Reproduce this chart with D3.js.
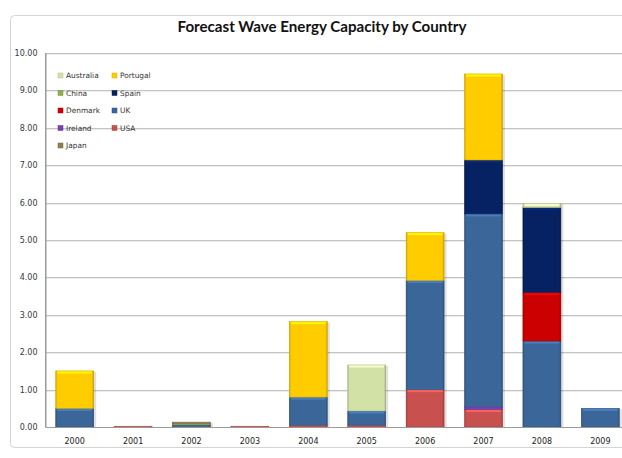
<!DOCTYPE html>
<html>
<head>
<meta charset="utf-8">
<script src="https://cdn.jsdelivr.net/npm/d3@7/dist/d3.min.js"></script>
<style>
  html, body { margin: 0; padding: 0; background: #fff; }
  svg { display: block; }
</style>
</head>
<body>
<svg id="chart" width="622" height="458"></svg>
<script>
// Forecast wave energy capacity (stacked by country)
const years = ["2000", "2001", "2002", "2003", "2004", "2005", "2006", "2007", "2008", "2009"];

// Series listed in stacking order, bottom to top
const USA       = [0.00, 0.02, 0.01, 0.02, 0.05, 0.05, 1.00, 0.47, 0.00, 0.00];
const Ireland   = [0.00, 0.00, 0.00, 0.00, 0.00, 0.00, 0.00, 0.07, 0.00, 0.00];
const UK        = [0.50, 0.00, 0.05, 0.00, 0.75, 0.38, 2.92, 5.16, 2.30, 0.50];
const Denmark   = [0.00, 0.00, 0.00, 0.00, 0.00, 0.00, 0.00, 0.00, 1.30, 0.00];
const Spain     = [0.00, 0.00, 0.00, 0.00, 0.00, 0.00, 0.00, 1.44, 2.27, 0.00];
const Portugal  = [1.00, 0.00, 0.00, 0.00, 2.02, 0.00, 1.28, 2.30, 0.00, 0.00];
const Australia = [0.00, 0.00, 0.00, 0.00, 0.00, 1.23, 0.00, 0.00, 0.11, 0.00];
const China     = [0.00, 0.00, 0.03, 0.00, 0.00, 0.00, 0.00, 0.00, 0.00, 0.00];
const Japan     = [0.00, 0.00, 0.04, 0.00, 0.00, 0.00, 0.00, 0.00, 0.00, 0.00];

const yTicks = [0, 1, 2, 3, 4, 5, 6, 7, 8, 9, 10];

const seriesDefs = [
  { name: "USA",       values: USA,       color: "#C8504E" },
  { name: "Ireland",   values: Ireland,   color: "#7A3FB0" },
  { name: "UK",        values: UK,        color: "#3B6699" },
  { name: "Denmark",   values: Denmark,   color: "#CC0000" },
  { name: "Spain",     values: Spain,     color: "#062262" },
  { name: "Portugal",  values: Portugal,  color: "#FFCC00" },
  { name: "Australia", values: Australia, color: "#D2E2A6" },
  { name: "China",     values: China,     color: "#8DB04E" },
  { name: "Japan",     values: Japan,     color: "#8F7E4E" }
];

// Legend reads alphabetically, two columns
const legendOrder = ["Australia", "China", "Denmark", "Ireland", "Japan", "Portugal", "Spain", "UK", "USA"];

const svg = d3.select("#chart");

// chart frame
svg.append("rect")
  .attr("x", 10.5).attr("y", 15.5)
  .attr("width", 640).attr("height", 432)
  .attr("rx", 4)
  .attr("fill", "#fff")
  .attr("stroke", "#d4d4d4");

const plot = { left: 45.5, top: 53, right: 629.5, bottom: 427 };

const x = d3.scaleBand()
  .domain(years)
  .range([plot.left, plot.right])
  .paddingInner(0.35)
  .paddingOuter(0.175);

const y = d3.scaleLinear()
  .domain([0, 10])
  .range([plot.bottom, plot.top]);

// title
svg.append("text")
  .attr("x", 322).attr("y", 32)
  .attr("text-anchor", "middle")
  .attr("font-family", "Lato, 'Open Sans', sans-serif")
  .attr("font-weight", "bold")
  .attr("font-size", 15.5)
  .attr("textLength", 289)
  .attr("lengthAdjust", "spacingAndGlyphs")
  .attr("fill", "#111")
  .text("Forecast Wave Energy Capacity by Country");

// gridlines
const grid = svg.append("g");
grid.selectAll("line.g")
  .data(yTicks.filter(d => d > 0))
  .join("line")
  .attr("x1", plot.left).attr("x2", plot.right)
  .attr("y1", d => Math.round(y(d)) + 0.5)
  .attr("y2", d => Math.round(y(d)) + 0.5)
  .attr("stroke", "#c4c4c4")
  .attr("stroke-width", 1);
grid.selectAll("line.s")
  .data(yTicks.filter(d => d > 0))
  .join("line")
  .attr("x1", plot.left).attr("x2", plot.right)
  .attr("y1", d => Math.round(y(d)) + 1.5)
  .attr("y2", d => Math.round(y(d)) + 1.5)
  .attr("stroke", "#ececec")
  .attr("stroke-width", 1);

// y axis
const yAxis = d3.axisLeft(y)
  .tickValues(yTicks)
  .tickSize(0)
  .tickPadding(8)
  .tickFormat(d3.format(".2f"));

const yg = svg.append("g")
  .attr("transform", `translate(${plot.left},0)`)
  .call(yAxis);
yg.select(".domain").attr("stroke", "#9a9a9a");
yg.selectAll("text")
  .attr("font-family", "'DejaVu Sans', sans-serif")
  .attr("font-size", 8)
  .attr("fill", "#33384a");

// x axis
const xAxis = d3.axisBottom(x).tickSize(0).tickPadding(11);
const xg = svg.append("g")
  .attr("transform", `translate(0,${plot.bottom})`)
  .call(xAxis);
xg.select(".domain").attr("stroke", "#9a9a9a");
xg.selectAll("text")
  .attr("font-family", "'DejaVu Sans', sans-serif")
  .attr("font-size", 8)
  .attr("fill", "#222");

// stacked bars
const table = years.map((yr, i) => {
  const row = { year: yr };
  seriesDefs.forEach(s => { row[s.name] = s.values[i]; });
  return row;
});
const stack = d3.stack().keys(seriesDefs.map(s => s.name));
const layers = stack(table);
const colorOf = Object.fromEntries(seriesDefs.map(s => [s.name, s.color]));

const defs = svg.append("defs");
const sideGrad = defs.append("linearGradient").attr("id", "side")
  .attr("x1", 0).attr("x2", 1).attr("y1", 0).attr("y2", 0);
sideGrad.append("stop").attr("offset", 0).attr("stop-color", "#000").attr("stop-opacity", 0.18);
sideGrad.append("stop").attr("offset", 0.05).attr("stop-color", "#000").attr("stop-opacity", 0);
sideGrad.append("stop").attr("offset", 0.95).attr("stop-color", "#000").attr("stop-opacity", 0);
sideGrad.append("stop").attr("offset", 1).attr("stop-color", "#000").attr("stop-opacity", 0.22);

const bars = svg.append("g");
const bw = x.bandwidth();

// soft shadow behind each column
bars.selectAll("rect.shadow")
  .data(years.map((yr, i) => ({ year: yr, total: d3.sum(seriesDefs, s => s.values[i]) })))
  .join("rect")
  .attr("x", d => x(d.year) + 1)
  .attr("y", d => y(d.total) + 1)
  .attr("width", bw + 1.5)
  .attr("height", d => Math.max(0, plot.bottom - y(d.total) - 1))
  .attr("fill", "#000")
  .attr("opacity", 0.12);

layers.forEach(layer => {
  const c = d3.color(colorOf[layer.key]);
  const light = c.brighter(0.7).formatHex();
  const dark = c.darker(0.35).formatHex();
  const segs = layer.filter(d => d[1] - d[0] > 0);
  const g = bars.append("g");
  g.selectAll("rect.body")
    .data(segs)
    .join("rect")
    .attr("x", d => x(d.data.year))
    .attr("y", d => y(d[1]))
    .attr("width", bw)
    .attr("height", d => Math.max(1, y(d[0]) - y(d[1])))
    .attr("fill", c.formatHex())
    .attr("stroke", dark)
    .attr("stroke-width", 0.6);
  g.selectAll("rect.edge")
    .data(segs)
    .join("rect")
    .attr("x", d => x(d.data.year))
    .attr("y", d => y(d[1]))
    .attr("width", bw)
    .attr("height", d => Math.max(1, y(d[0]) - y(d[1])))
    .attr("fill", "url(#side)");
  g.selectAll("rect.top")
    .data(segs.filter(d => y(d[0]) - y(d[1]) > 3))
    .join("rect")
    .attr("x", d => x(d.data.year) + 1.5)
    .attr("y", d => y(d[1]) + 0.6)
    .attr("width", bw - 3)
    .attr("height", 2)
    .attr("fill", light)
    .attr("opacity", 0.85);
});

// plot area left border and baseline
svg.append("line")
  .attr("x1", plot.left).attr("x2", plot.left)
  .attr("y1", plot.top).attr("y2", plot.bottom)
  .attr("stroke", "#9a9a9a");
svg.append("line")
  .attr("x1", plot.left).attr("x2", plot.right)
  .attr("y1", plot.bottom + 0.5).attr("y2", plot.bottom + 0.5)
  .attr("stroke", "#9a9a9a");

// legend
const legend = svg.append("g");
const legendItems = legendOrder.map((name, i) => ({
  name,
  col: i < 5 ? 0 : 1,
  row: i < 5 ? i : i - 5
}));
const lg = legend.selectAll("g")
  .data(legendItems)
  .join("g")
  .attr("transform", d => `translate(${58 + d.col * 54},${75.5 + d.row * 17.5})`);
lg.append("rect")
  .attr("x", 0).attr("y", -2.5)
  .attr("width", 5).attr("height", 5)
  .attr("fill", d => colorOf[d.name])
  .attr("stroke", d => d3.color(colorOf[d.name]).darker(0.5))
  .attr("stroke-width", 0.5);
lg.append("text")
  .attr("x", 8).attr("y", 2.6)
  .attr("font-family", "'DejaVu Sans', sans-serif")
  .attr("font-size", 7.4)
  .attr("fill", "#333")
  .text(d => d.name);
</script>
</body>
</html>
